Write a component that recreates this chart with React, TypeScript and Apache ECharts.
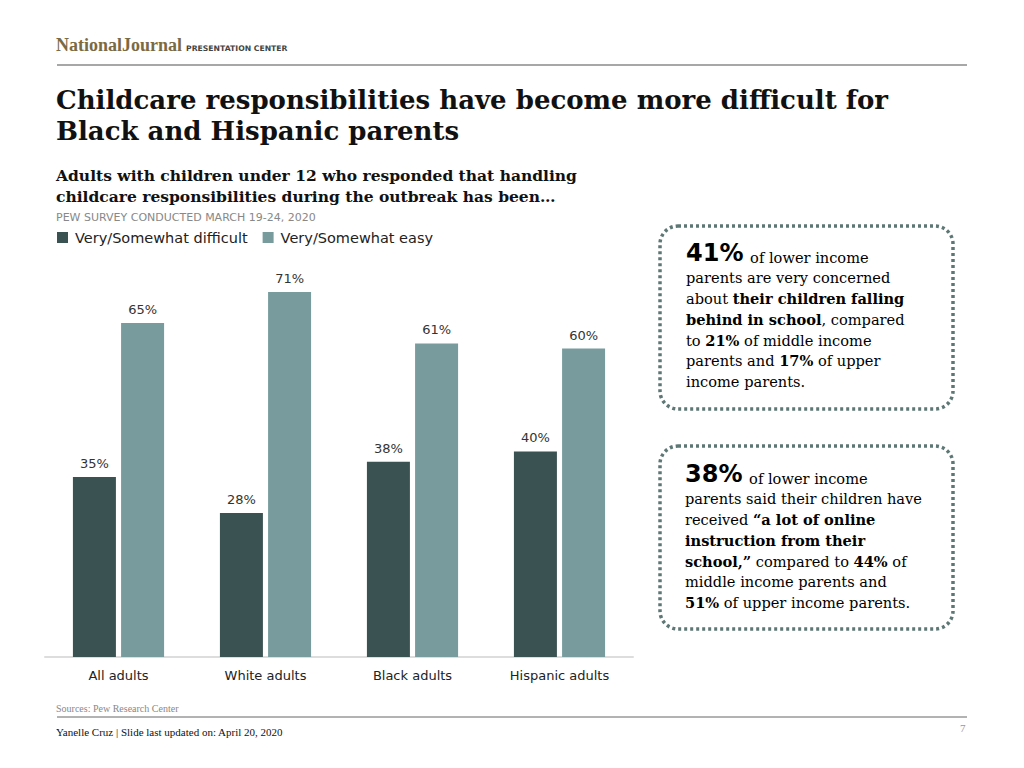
import React, { useEffect, useRef } from "react";
import * as echarts from "echarts";

const categories = ["All adults", "White adults", "Black adults", "Hispanic adults"];
const difficult = [35, 28, 38, 40];
const easy = [65, 71, 61, 60];
const seriesNames = ["Very/Somewhat difficult", "Very/Somewhat easy"];

const DARK = "#3b5253";
const LIGHT = "#789c9e";
const BORDER = "#5d7774";
const SERIF = "'Liberation Serif', 'DejaVu Serif', serif";
const WSERIF = "'DejaVu Serif', 'Liberation Serif', serif";
const SANS = "'DejaVu Sans', Verdana, sans-serif";

export default function App() {
  const ref = useRef<HTMLDivElement>(null);
  useEffect(() => {
    if (!ref.current) return;
    const chart = echarts.init(ref.current, undefined, { renderer: "svg" });
    const calloutRich = {
      big: { fontFamily: SANS, fontWeight: "bold", fontSize: 24, color: "#111", lineHeight: 20.7, verticalAlign: "bottom" },
      n: { fontFamily: WSERIF, fontSize: 14.6, color: "#222", lineHeight: 20.7, verticalAlign: "bottom" },
      b: { fontFamily: WSERIF, fontWeight: "bold", fontSize: 14.6, color: "#111", lineHeight: 20.7, verticalAlign: "bottom" },
    };
    chart.setOption({
      animation: false,
      backgroundColor: "#ffffff",
      legend: {
        left: 52,
        top: 225,
        itemWidth: 11,
        itemHeight: 11,
        itemGap: 15,
        icon: "rect",
        data: seriesNames,
        textStyle: { fontFamily: SANS, fontSize: 14.5, color: "#222", padding: [0, 0, 0, 2] },
      },
      grid: { left: 45, right: 391, top: 143, bottom: 111 },
      xAxis: {
        type: "category",
        data: categories,
        axisLine: { lineStyle: { color: "#dddddd", width: 2 } },
        axisTick: { show: false },
        axisLabel: { fontFamily: SANS, fontSize: 13, color: "#222", margin: 12 },
      },
      yAxis: { type: "value", min: 0, max: 100, show: false, splitLine: { show: false } },
      series: [
        {
          name: seriesNames[0],
          type: "bar",
          data: difficult,
          barWidth: 43,
          barGap: "12%",
          itemStyle: { color: DARK },
          label: { show: true, position: "top", distance: 7, formatter: "{c}%", fontFamily: SANS, fontSize: 13, color: "#333" },
        },
        {
          name: seriesNames[1],
          type: "bar",
          data: easy,
          barWidth: 43,
          itemStyle: { color: LIGHT },
          label: { show: true, position: "top", distance: 7, formatter: "{c}%", fontFamily: SANS, fontSize: 13, color: "#333" },
        },
      ],
      graphic: [
        { type: "text", left: 56, top: 36, style: { text: "NationalJournal", fontFamily: SERIF, fontWeight: "bold", fontSize: 18, fill: "#7a6a44" } },
        { type: "text", left: 186, top: 44, style: { text: "PRESENTATION CENTER", fontFamily: SANS, fontWeight: "bold", fontSize: 7.7, fill: "#444" } },
        { type: "line", shape: { x1: 57, y1: 65, x2: 967, y2: 65 }, style: { stroke: "#8a8a8a", lineWidth: 1.5 } },
        {
          type: "text", left: 56, top: 84,
          style: { text: "Childcare responsibilities have become more difficult for\nBlack and Hispanic parents", fontFamily: WSERIF, fontWeight: "bold", fontSize: 26, lineHeight: 31, fill: "#111" },
        },
        {
          type: "text", left: 56, top: 165,
          style: { text: "Adults with children under 12 who responded that handling\nchildcare responsibilities during the outbreak has been…", fontFamily: WSERIF, fontWeight: "bold", fontSize: 15.5, lineHeight: 21, fill: "#111" },
        },
        { type: "text", left: 56, top: 212, style: { text: "PEW SURVEY CONDUCTED MARCH 19-24, 2020", fontFamily: SANS, fontSize: 11, fill: "#888" } },
        {
          type: "rect", shape: { x: 660, y: 226, width: 293, height: 183, r: 18 },
          style: { fill: "none", stroke: BORDER, lineWidth: 3.5, lineDash: [3, 3] },
        },
        {
          type: "text", x: 686, y: 244,
          style: {
            text: "{big|41%}  {n|of lower income}\n{n|parents are very concerned}\n{n|about }{b|their children falling}\n{b|behind in school}{n|, compared}\n{n|to }{b|21%}{n| of middle income}\n{n|parents and }{b|17%}{n| of upper}\n{n|income parents.}",
            rich: calloutRich,
          },
        },
        {
          type: "rect", shape: { x: 660, y: 446, width: 293, height: 183, r: 18 },
          style: { fill: "none", stroke: BORDER, lineWidth: 3.5, lineDash: [3, 3] },
        },
        {
          type: "text", x: 685, y: 465,
          style: {
            text: "{big|38%}  {n|of lower income}\n{n|parents said their children have}\n{n|received }{b|“a lot of online}\n{b|instruction from their}\n{b|school,”}{n| compared to }{b|44%}{n| of}\n{n|middle income parents and}\n{b|51%}{n| of upper income parents.}",
            rich: calloutRich,
          },
        },
        { type: "text", left: 56, top: 703, style: { text: "Sources: Pew Research Center", fontFamily: SERIF, fontSize: 10, fill: "#888" } },
        { type: "line", shape: { x1: 57, y1: 717, x2: 967, y2: 717 }, style: { stroke: "#666", lineWidth: 1 } },
        { type: "text", left: 56, top: 726, style: { text: "Yanelle Cruz | Slide last updated on: April 20, 2020", fontFamily: SERIF, fontSize: 11, fill: "#111" } },
        { type: "text", left: 960, top: 722, style: { text: "7", fontFamily: SERIF, fontSize: 11, fill: "#999" } },
      ],
    });
    return () => chart.dispose();
  }, []);
  return <div ref={ref} style={{ position: "fixed", left: 0, top: 0, width: 1024, height: 768, background: "#fff" }} />;
}
